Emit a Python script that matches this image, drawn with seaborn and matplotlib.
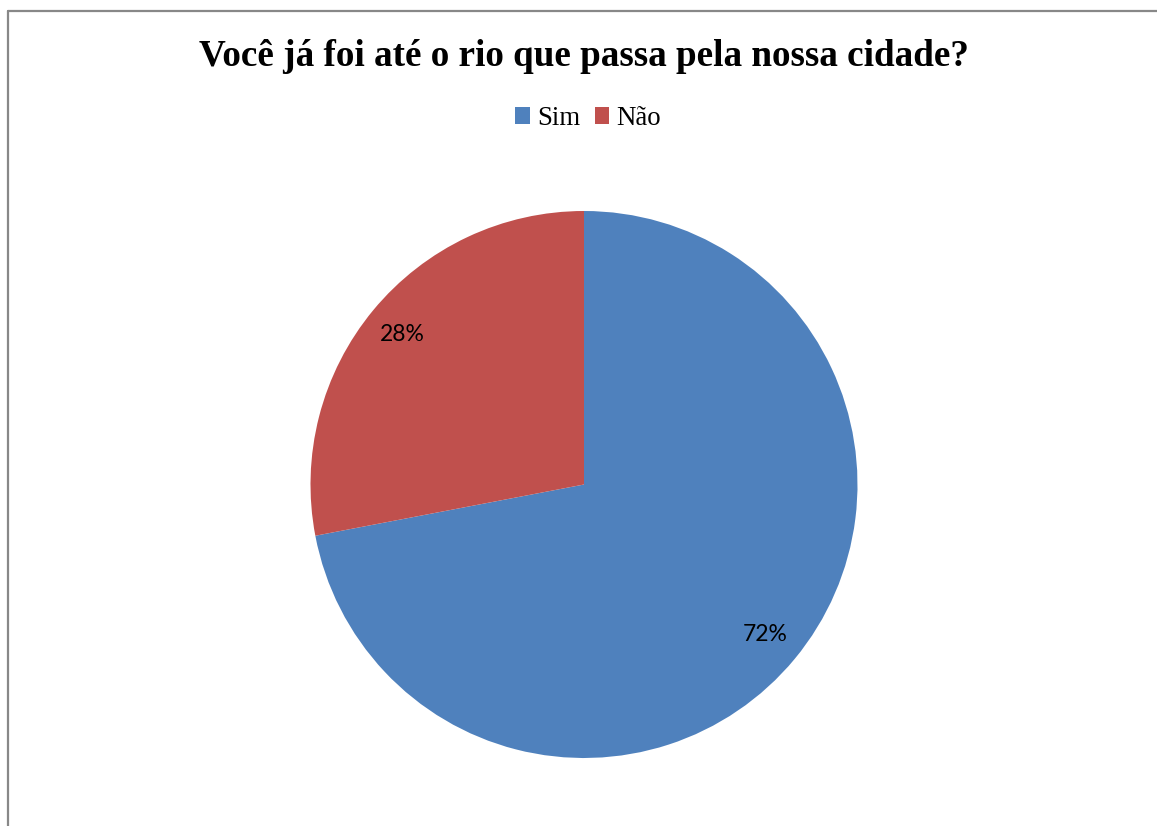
import matplotlib
matplotlib.use("Agg")
import matplotlib.pyplot as plt
from matplotlib.patches import Patch
from matplotlib.lines import Line2D
import seaborn as sns

categories = ["Sim", "Não"]
values = [72, 28]
colors = ["#4F81BD", "#C0504D"]
title = "Você já foi até o rio que passa pela nossa cidade?"

sns.set_theme(style="white")
palette = sns.color_palette(colors)

W, H = 1157, 826
fig = plt.figure(figsize=(W / 100, H / 100), dpi=100)
fig.patch.set_facecolor("white")

cx, cy, r = 584, 484.5, 273.5
ax = fig.add_axes([(cx - r) / W, (H - cy - r) / H, 2 * r / W, 2 * r / H])
wedges, texts, autotexts = ax.pie(
    values, colors=palette, startangle=90, counterclock=False,
    autopct="%1.0f%%", pctdistance=0.86,
    wedgeprops=dict(linewidth=0),
    textprops=dict(fontsize=16.5, family=["Lato", "DejaVu Sans"], color="black"),
)
ax.set_xlim(-1, 1)
ax.set_ylim(-1, 1)
ax.set_aspect("equal")
ax.axis("off")

fig.text(cx / W, 1 - 57 / H, title, ha="center", va="center", color="black",
         fontsize=26.7, fontweight="bold", family=["Liberation Serif", "DejaVu Serif"])

handles = [Patch(facecolor=c, edgecolor="none", label=l) for c, l in zip(palette, categories)]
leg = fig.legend(handles=handles, loc="center", bbox_to_anchor=(588 / W, 1 - 118.5 / H),
                 ncol=2, frameon=False, handlelength=0.55, handleheight=0.55,
                 handletextpad=0.25, columnspacing=0.55,
                 prop=dict(family=["Liberation Serif", "DejaVu Serif"], size=19.3))
for t in leg.get_texts():
    t.set_color("black")

# outer chart border (left and top visible)
fig.add_artist(Line2D([7.5 / W, 7.5 / W], [0, 1 - 10.5 / H], transform=fig.transFigure,
                      color="#888888", linewidth=1.6))
fig.add_artist(Line2D([7.5 / W, 1], [1 - 10.5 / H, 1 - 10.5 / H], transform=fig.transFigure,
                      color="#888888", linewidth=1.6))

fig.savefig("out.png", dpi=100, facecolor="white")
